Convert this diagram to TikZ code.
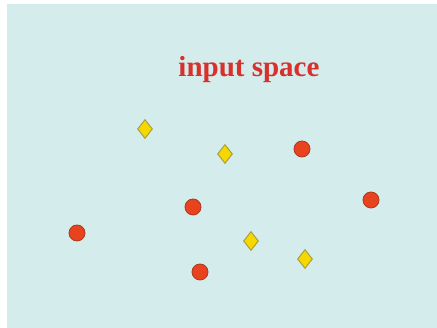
\documentclass[tikz,border=0pt]{standalone}
\usepackage{fontspec}
\setmainfont{Liberation Serif}
\usetikzlibrary{shapes.geometric}
\definecolor{bg}{HTML}{D4ECEB}
\definecolor{dotred}{HTML}{E8431E}
\definecolor{dotedge}{HTML}{A83A1E}
\definecolor{diayel}{HTML}{F6D800}
\definecolor{diaedge}{HTML}{A8A040}
\definecolor{titlered}{HTML}{D8302C}
\tikzset{
  reddot/.style={circle, fill=dotred, draw=dotedge, line width=0.8pt, minimum size=16pt, inner sep=0pt},
  yeldia/.style={diamond, fill=diayel, draw=diaedge, line width=1pt, minimum width=15pt, minimum height=19pt, inner sep=0pt, aspect=0.78},
  title/.style={text=titlered, font=\bfseries\fontsize{29}{32}\selectfont, inner sep=0pt}
}
\begin{document}
\begin{tikzpicture}[x=1pt,y=-1pt]
\useasboundingbox (0,0) rectangle (437,328);
\fill[white] (0,0) rectangle (437,328);
\fill[bg] (7,4) rectangle (437,328);
\node[title] (t) at (249,70) {input space};
\node[yeldia] (d1) at (145,129) {};
\node[yeldia] (d2) at (225,154) {};
\node[yeldia] (d3) at (251,241) {};
\node[yeldia] (d4) at (305,259) {};
\node[reddot] (c1) at (302,149) {};
\node[reddot] (c2) at (371,200) {};
\node[reddot] (c3) at (193,207) {};
\node[reddot] (c4) at (77,233) {};
\node[reddot] (c5) at (200,272) {};
\end{tikzpicture}
\end{document}
